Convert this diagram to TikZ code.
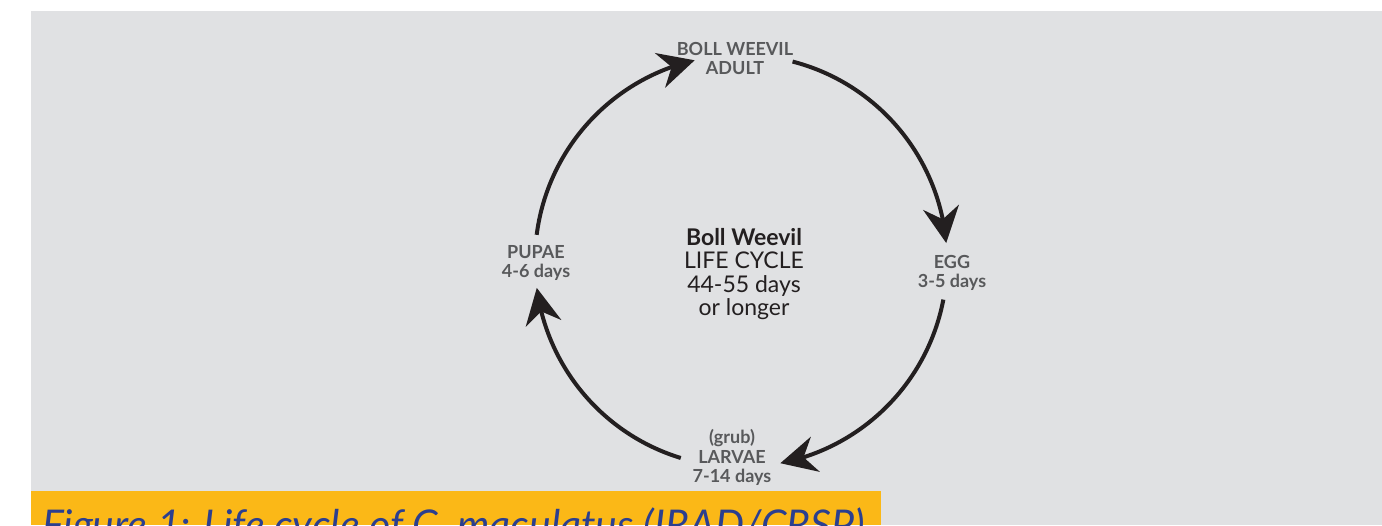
\documentclass[tikz,border=0pt]{standalone}
\usepackage{fontspec}
\setmainfont{Lato}
\usetikzlibrary{arrows.meta,bending}
\definecolor{bg}{HTML}{E0E1E3}
\definecolor{ink}{HTML}{231F20}
\definecolor{lbl}{HTML}{58595B}
\definecolor{ybox}{HTML}{FBB817}
\definecolor{capblue}{HTML}{2B3F8F}
\begin{document}
\begin{tikzpicture}[x=1pt,y=1pt,
  cyc/.style={line width=4pt, draw=ink, line cap=butt,
    -{Stealth[length=36pt,width=36pt,inset=12pt,flex]}},
  stage/.style={font=\fontsize{18}{19.5}\selectfont\bfseries, text=lbl, align=center, inner sep=0pt, anchor=north},
  centre/.style={font=\fontsize{23}{23.5}\selectfont, text=ink, align=center, inner sep=0pt, anchor=north},
]
\useasboundingbox (0,0) rectangle (1382,525);
\clip (0,0) rectangle (1382,525);
\fill[bg] (31,0) rectangle (1382,514);
\fill[ybox] (31,0) rectangle (881,34);
\node[anchor=base west, inner sep=0pt, text=capblue, font=\fontsize{41}{43}\selectfont\itshape] (cap) at (42,-14.5) {Figure 1: Life cycle of C. maculatus (IRAD/CRSP)};

\coordinate (C) at (741,264);
\node[stage] (adult) at (735,483) {BOLL WEEVIL\\ADULT};
\node[stage] (egg) at (952,270) {EGG\\3-5 days};
\node[stage] (larvae) at (732,95.5) {(grub)\\LARVAE\\7-14 days};
\node[stage] (pupae) at (536,280) {PUPAE\\4-6 days};
\node[centre] (mid) at (744,297) {\textbf{Boll Weevil}\\LIFE CYCLE\\44-55 days\\or longer};

\path (C) ++(75.5:206) coordinate (a1);
\path (C) ++(-10.8:206) coordinate (e1);
\path (C) ++(-107:206) coordinate (l1);
\path (C) ++(172.7:206) coordinate (p1);

\draw[cyc] (a1) arc[start angle=75.5, end angle=5, radius=206];
\draw[cyc] (e1) arc[start angle=-10.8, end angle=-79, radius=206];
\draw[cyc] (l1) arc[start angle=-107, end angle=-172.5, radius=206];
\draw[cyc] (p1) arc[start angle=172.7, end angle=103, radius=206];
\end{tikzpicture}
\end{document}
